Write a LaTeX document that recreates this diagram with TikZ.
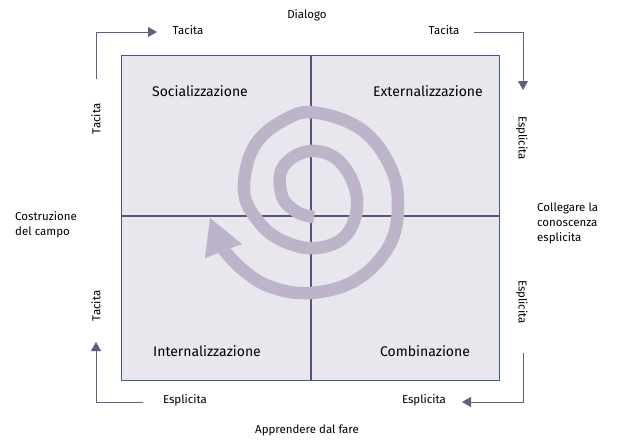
\documentclass[tikz,border=0pt]{standalone}
\usepackage{fontspec}
\setmainfont{Fira Sans}
\usetikzlibrary{arrows.meta}
\definecolor{boxfill}{HTML}{E9E7EE}
\definecolor{boxborder}{HTML}{3E5A8A}
\definecolor{axis}{HTML}{5E5078}
\definecolor{spiralc}{HTML}{BDB4C9}
\definecolor{arrowc}{HTML}{6A5A80}
\begin{document}
\begin{tikzpicture}[x=1pt,y=-1pt,
  lbl/.style={font=\fontsize{11.5}{15}\selectfont, inner sep=0pt},
  qlbl/.style={font=\fontsize{14}{17}\selectfont, inner sep=0pt},
  side/.style={lbl, align=left, anchor=west},
  conn/.style={draw=arrowc, line width=1pt, -{Triangle[length=9pt,width=10pt]}},
  axisline/.style={draw=axis, line width=1.6pt},
  spiralline/.style={draw=spiralc, line width=12.5pt}
]
\useasboundingbox (0,0) rectangle (641,445);
% box
\filldraw[fill=boxfill, draw=boxborder, line width=0.8pt] (121,55) rectangle (499,380);
\coordinate (top) at (311,55);
\coordinate (bot) at (311,380);
\coordinate (lft) at (121,216);
\coordinate (rgt) at (499,216);
\draw[axisline] (top) -- (bot);
\draw[axisline] (lft) -- (rgt);
% spiral
\draw[spiralline] plot[smooth, tension=0.65] coordinates {
 (314,217) (297,212) (282,196) (283,167) (310,151) (340,162) (357,198) (347,234) (317,248) (283,241) (258,221) (244,190) (255,145) (288,118) (318,113) (362,130) (390,166) (398,205) (389,246) (356,280) (311,293) (271,287) (243,270) (223,249)};
\fill[spiralc] (210,218) -- (205,258) -- (242,244) -- cycle;
% quadrant labels
\node[qlbl] (soc) at (200,91) {Socializzazione};
\node[qlbl] (ext) at (428,91) {Externalizzazione};
\node[qlbl] (int) at (207,351) {Internalizzazione};
\node[qlbl] (com) at (425,351) {Combinazione};
% outer labels
\node[lbl] (dial) at (307,15) {Dialogo};
\node[lbl] (app) at (307,430) {Apprendere dal fare};
\node[lbl] (tl) at (188,30) {Tacita};
\node[lbl] (tr) at (444,30) {Tacita};
\node[lbl] (bl) at (185,400) {Esplicita};
\node[lbl] (br) at (424,400) {Esplicita};
\node[lbl, rotate=90] (lt1) at (96,119) {Tacita};
\node[lbl, rotate=90] (lt2) at (96,306) {Tacita};
\node[lbl, rotate=-90] (re1) at (522,138) {Esplicita};
\node[lbl, rotate=-90] (re2) at (522,302) {Esplicita};
\node[side] (cost) at (15,225) {Costruzione\\del campo};
\node[side] (coll) at (537,223) {Collegare la\\conoscenza\\esplicita};
% corner connectors
\coordinate (a1s) at (96,79);
\coordinate (a1e) at (157,32);
\draw[conn] (a1s) |- (a1e);
\coordinate (a2s) at (474,32);
\coordinate (a2e) at (523,90);
\draw[conn] (a2s) -| (a2e);
\coordinate (a3s) at (143,402);
\coordinate (a3e) at (96,342);
\draw[conn] (a3s) -| (a3e);
\coordinate (a4s) at (523,353);
\coordinate (a4e) at (462,402);
\draw[conn] (a4s) |- (a4e);
\end{tikzpicture}
\end{document}
